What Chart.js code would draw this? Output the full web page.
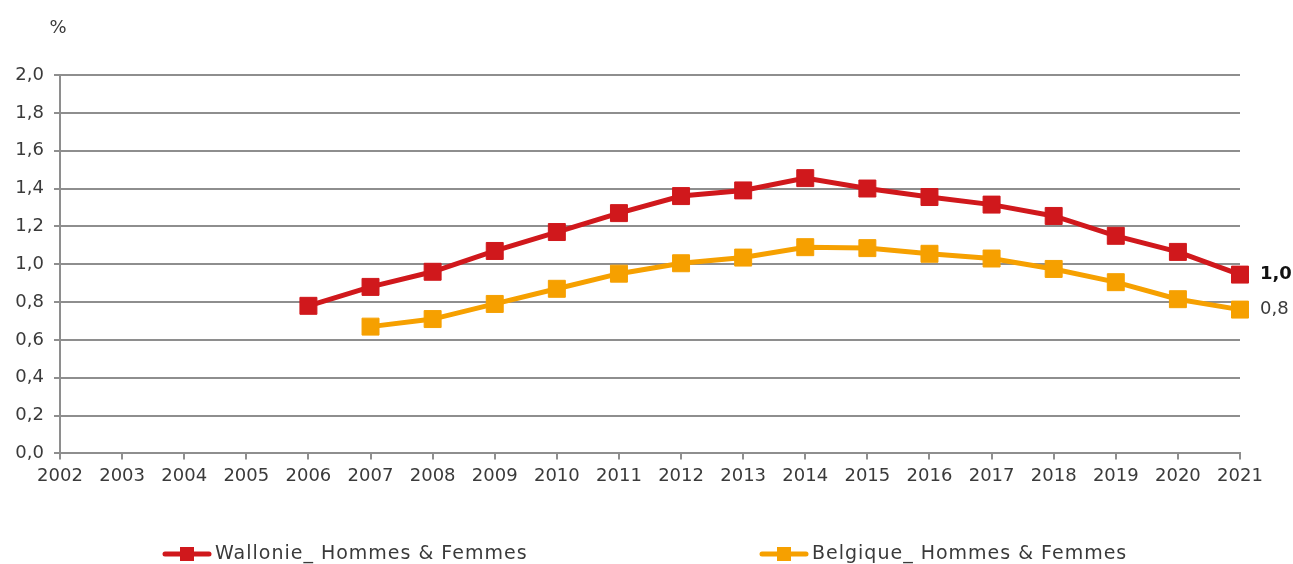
<!DOCTYPE html>
<html><head><meta charset="utf-8">
<script src="https://cdn.jsdelivr.net/npm/chart.js@4/dist/chart.umd.min.js"></script>
<style>html,body{margin:0;padding:0;background:#fff;}#wrap{width:1293px;height:564px;position:relative;}</style>
</head><body><div id="wrap"><canvas id="c" width="1293" height="564"></canvas></div>
<script>
const years = ['2002','2003','2004','2005','2006','2007','2008','2009','2010','2011','2012','2013','2014','2015','2016','2017','2018','2019','2020','2021'];
const wallonie = [null,null,null,null,0.78,0.88,0.96,1.07,1.17,1.27,1.36,1.39,1.455,1.40,1.355,1.315,1.255,1.15,1.065,0.945];
const belgique = [null,null,null,null,null,0.67,0.71,0.79,0.87,0.95,1.005,1.035,1.09,1.085,1.055,1.03,0.975,0.905,0.815,0.76];
const seriesNames = ['Wallonie_ Hommes & Femmes','Belgique_ Hommes & Femmes'];
const endLabels = ['1,0','0,8'];
const yMin = 0, yMax = 2, yStep = 0.2;

const RED = 'rgb(208,24,28)', ORANGE = 'rgb(246,160,0)';
const GRID = '#8e8e8e', TXT = '#3a3a3a';
const FONT = '"DejaVu Sans", sans-serif';

const extras = {
  id: 'extras',
  afterDatasetsDraw(chart) {
    const ctx = chart.ctx;
    ctx.save();
    ctx.fillStyle = TXT;
    ctx.font = '18px ' + FONT;
    ctx.textAlign = 'center'; ctx.textBaseline = 'middle';
    ctx.fillText('%', 58, 28);
    chart.data.datasets.forEach((ds, i) => {
      const meta = chart.getDatasetMeta(i);
      const pt = meta.data[meta.data.length - 1];
      ctx.font = (i === 0 ? 'bold ' : '') + '18px ' + FONT;
      ctx.textAlign = 'left';
      ctx.fillStyle = i === 0 ? '#111' : TXT;
      ctx.fillText(endLabels[i], pt.x + 20, pt.y);
    });
    const lx = [163, 760];
    chart.data.datasets.forEach((ds, i) => {
      const x = lx[i], y = 554;
      ctx.strokeStyle = ds.borderColor; ctx.lineWidth = 5; ctx.lineCap = 'round';
      ctx.beginPath(); ctx.moveTo(x + 2, y); ctx.lineTo(x + 46, y); ctx.stroke();
      ctx.fillStyle = ds.borderColor;
      ctx.fillRect(x + 17, y - 7, 14, 14);
      ctx.fillStyle = TXT; ctx.font = '19px ' + FONT; ctx.textAlign = 'left';
      try { ctx.letterSpacing = '1px'; } catch (e) {}
      ctx.fillText(ds.label, x + 52, y);
      try { ctx.letterSpacing = '0px'; } catch (e) {}
    });
    ctx.restore();
  }
};

new Chart(document.getElementById('c'), {
  type: 'line',
  data: {
    labels: years,
    datasets: [
      { label: seriesNames[0], data: wallonie, borderColor: RED, backgroundColor: RED, borderWidth: 5,
        pointStyle: 'rect', pointRadius: 12, pointBorderWidth: 1, pointBackgroundColor: RED, pointBorderColor: RED, tension: 0 },
      { label: seriesNames[1], data: belgique, borderColor: ORANGE, backgroundColor: ORANGE, borderWidth: 5,
        pointStyle: 'rect', pointRadius: 12, pointBorderWidth: 1, pointBackgroundColor: ORANGE, pointBorderColor: ORANGE, tension: 0 }
    ]
  },
  options: {
    responsive: false, animation: false,
    layout: { padding: { top: 75, right: 53, bottom: 71, left: 0 } },
    plugins: { legend: { display: false }, tooltip: { enabled: false } },
    scales: {
      x: {
        offset: false,
        grid: { display: true, drawOnChartArea: false, drawTicks: true, tickLength: 6, color: GRID, lineWidth: 2 },
        border: { display: true, color: GRID, width: 2 },
        ticks: { color: TXT, font: { family: FONT, size: 18 }, padding: 6, maxRotation: 0, autoSkip: false }
      },
      y: {
        min: yMin, max: yMax,
        afterFit(s) { s.width = 60; },
        grid: { color: GRID, lineWidth: 2, tickLength: 6 },
        border: { display: true, color: GRID, width: 2 },
        ticks: { stepSize: yStep, color: TXT, font: { family: FONT, size: 18 }, padding: 10,
          callback: v => v.toFixed(1).replace('.', ',') }
      }
    }
  },
  plugins: [extras]
});
</script></body></html>
